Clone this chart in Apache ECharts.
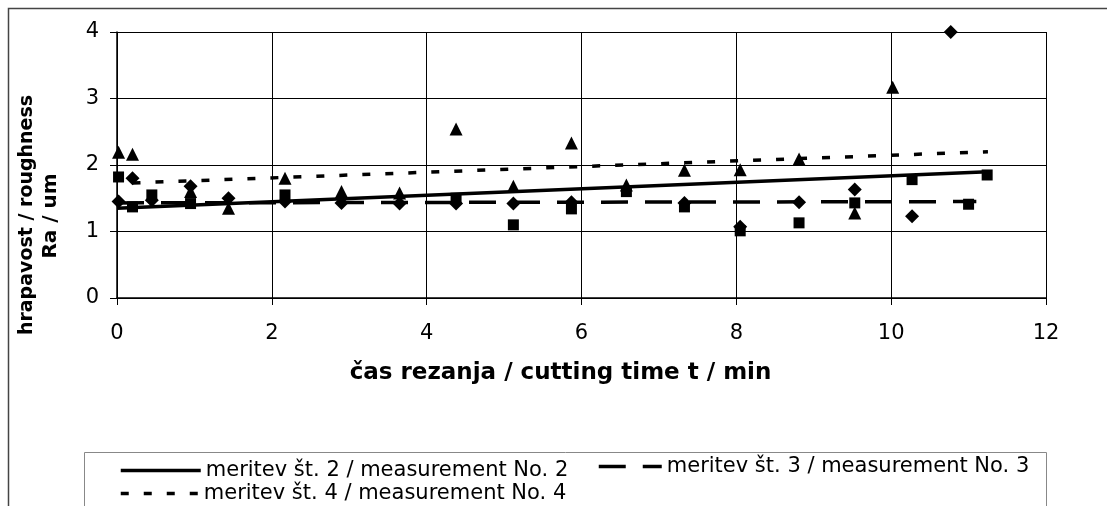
<!DOCTYPE html>
<html lang="sl">
  <head>
    <meta charset="UTF-8" />
    <title>hrapavost / roughness</title>
    <script src="https://cdn.jsdelivr.net/npm/echarts@6/dist/echarts.min.js"></script>
    <style>
      body { margin: 0; background: #fff; }
    </style>
  </head>
  <body>
    <div id="chart" style="width: 1107px; height: 506px"></div>

    <script type="text/javascript">
      // measured points (cutting time t / min, Ra / um)
      const diamondX = [0.02, 0.2, 0.45, 0.95, 1.44, 2.17, 2.9, 3.65, 4.38, 5.12, 5.87, 7.33, 8.05, 8.81, 9.53, 10.27, 10.77];
      const diamondY = [1.45, 1.8, 1.47, 1.68, 1.5, 1.45, 1.43, 1.42, 1.42, 1.42, 1.44, 1.43, 1.07, 1.44, 1.63, 1.23, 4.0];

      const squareX = [0.02, 0.2, 0.45, 0.95, 2.17, 4.38, 5.12, 5.87, 6.58, 7.33, 8.05, 8.81, 9.53, 10.27, 11.0, 11.24];
      const squareY = [1.82, 1.37, 1.55, 1.42, 1.55, 1.5, 1.1, 1.34, 1.6, 1.37, 1.01, 1.13, 1.43, 1.78, 1.41, 1.85];

      const triangleX = [0.02, 0.2, 0.95, 1.44, 2.17, 2.9, 3.65, 4.38, 5.12, 5.87, 6.58, 7.33, 8.05, 8.81, 9.53, 10.02];
      const triangleY = [2.19, 2.16, 1.6, 1.35, 1.8, 1.6, 1.58, 2.54, 1.68, 2.33, 1.7, 1.92, 1.93, 2.09, 1.28, 3.17];

      // linear trend lines, start and end points
      const trend2X = [0, 11.25];
      const trend2Y = [1.35, 1.9];
      const trend3X = [0, 11.1];
      const trend3Y = [1.43, 1.45];
      const trend4X = [0.2, 11.25];
      const trend4Y = [1.73, 2.2];

      const names = [
        "meritev št. 2 / measurement No. 2",
        "meritev št. 3 / measurement No. 3",
        "meritev št. 4 / measurement No. 4",
      ];
      const xTicks = [0, 2, 4, 6, 8, 10, 12];
      const yTicks = [0, 1, 2, 3, 4];

      const pairs = (xs, ys) => xs.map((x, i) => [x, ys[i]]);
      const font = "DejaVu Sans";

      let chart = echarts.init(document.getElementById("chart"));

      const legendBase = {
        itemHeight: 12,
        itemGap: 2,
        padding: 0,
        // hide the round symbol ECharts puts on a line icon
        itemStyle: { opacity: 0 },
        lineStyle: { width: 3.5 },
        textStyle: { fontFamily: font, fontSize: 21, color: "#000" },
      };

      const option = {
        animation: false,
        backgroundColor: "#fff",
        textStyle: { fontFamily: font, color: "#000" },
        grid: { left: 117, top: 32, right: 61, bottom: 208, containLabel: false },
        xAxis: {
          type: "value",
          min: xTicks[0],
          max: xTicks[xTicks.length - 1],
          interval: 2,
          name: "čas rezanja / cutting time t / min",
          nameLocation: "middle",
          nameGap: 64,
          nameTextStyle: { fontFamily: font, fontSize: 23, fontWeight: "bold", color: "#000", padding: [0, 42, 0, 0] },
          axisLine: { lineStyle: { color: "#000", width: 1.5 } },
          axisTick: { show: true, length: 7, lineStyle: { color: "#000" } },
          axisLabel: { fontSize: 21, color: "#000", margin: 25, fontFamily: font },
          splitLine: { show: true, lineStyle: { color: "#000", width: 1 } },
        },
        yAxis: {
          type: "value",
          min: yTicks[0],
          max: yTicks[yTicks.length - 1],
          interval: 1,
          axisLine: { show: true, lineStyle: { color: "#000", width: 1.5 } },
          axisTick: { show: true, length: 7, lineStyle: { color: "#000" } },
          axisLabel: { fontSize: 21, color: "#000", margin: 18, fontFamily: font },
          splitLine: { show: true, lineStyle: { color: "#000", width: 1 } },
        },
        legend: [
          Object.assign({ data: [names[0]], left: 119, top: 460, itemWidth: 80 }, legendBase),
          Object.assign({ data: [names[1]], left: 597, top: 456, itemWidth: 63 }, legendBase),
          Object.assign({ data: [names[2]], left: 119, top: 483, itemWidth: 78 }, legendBase),
        ],
        graphic: [
          {
            type: "rect",
            shape: { x: 8.5, y: 8.5, width: 1110, height: 510 },
            style: { fill: "none", stroke: "#444", lineWidth: 1.5 },
            silent: true,
          },
          {
            type: "rect",
            shape: { x: 84.5, y: 452.5, width: 962, height: 80 },
            style: { fill: "none", stroke: "#888", lineWidth: 1 },
            silent: true,
          },
          {
            type: "text",
            x: 27,
            y: 215,
            rotation: Math.PI / 2,
            style: {
              text: "hrapavost / roughness",
              font: "bold 19px " + font,
              fill: "#000",
              align: "center",
              verticalAlign: "middle",
            },
          },
          {
            type: "text",
            x: 51,
            y: 216,
            rotation: Math.PI / 2,
            style: {
              text: "Ra / um",
              font: "bold 20px " + font,
              fill: "#000",
              align: "center",
              verticalAlign: "middle",
            },
          },
        ],
        series: [
          {
            name: "točke 2",
            type: "scatter",
            symbol: "diamond",
            symbolSize: 14,
            itemStyle: { color: "#000", opacity: 1 },
            data: pairs(diamondX, diamondY),
            z: 2,
          },
          {
            name: "točke 3",
            type: "scatter",
            symbol: "rect",
            symbolSize: 11,
            itemStyle: { color: "#000", opacity: 1 },
            data: pairs(squareX, squareY),
            z: 2,
          },
          {
            name: "točke 4",
            type: "scatter",
            symbol: "triangle",
            symbolSize: 13,
            itemStyle: { color: "#000", opacity: 1 },
            data: pairs(triangleX, triangleY),
            z: 2,
          },
          {
            name: names[0],
            type: "line",
            symbol: "none",
            data: pairs(trend2X, trend2Y),
            itemStyle: { color: "#000" },
            lineStyle: { color: "#000", width: 3.5, type: "solid" },
            z: 3,
          },
          {
            name: names[1],
            type: "line",
            symbol: "none",
            data: pairs(trend3X, trend3Y),
            itemStyle: { color: "#000" },
            lineStyle: { color: "#000", width: 3.5, type: [27, 17] },
            z: 3,
          },
          {
            name: names[2],
            type: "line",
            symbol: "none",
            data: pairs(trend4X, trend4Y),
            itemStyle: { color: "#000" },
            lineStyle: { color: "#000", width: 3.5, type: [8, 15] },
            z: 3,
          },
        ],
      };

      chart.setOption(option);
    </script>
  </body>
</html>
